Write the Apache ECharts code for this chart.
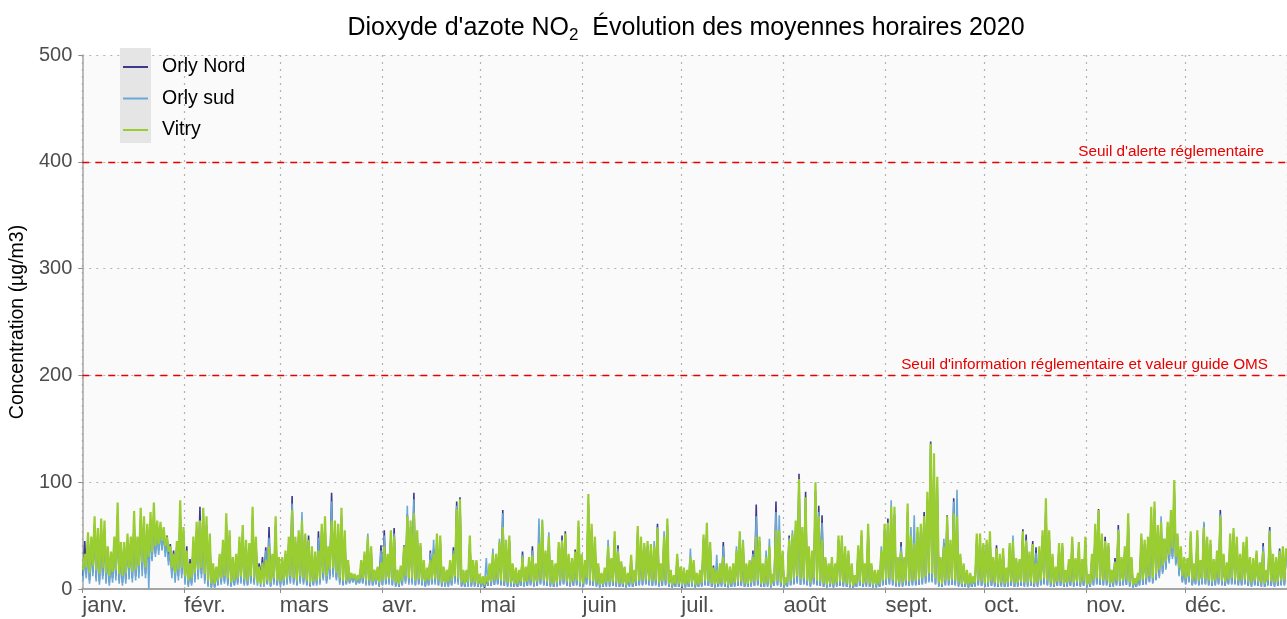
<!DOCTYPE html>
<html><head><meta charset="utf-8">
<script src="https://cdn.jsdelivr.net/npm/echarts@6/dist/echarts.min.js"></script>
<style>html,body{margin:0;padding:0;background:#fff}#c{width:1287px;height:619px}</style>
</head><body><div id="c"></div>
<script>
const monthLabels = ['janv.','févr.','mars','avr.','mai','juin','juil.','août','sept.','oct.','nov.','déc.'];
const yTicks = [0,100,200,300,400,500];
const thresholds = [400, 200];
const thresholdLabels = ["Seuil d'alerte réglementaire", "Seuil d'information réglementaire et valeur guide OMS"];
const seriesNames = ['Orly Nord','Orly sud','Vitry'];

// daily peak / trough readings (µg/m3), day 0 = 1 Jan 2020
const vitryHi = [33,53,49,68,57,66,64,40,35,49,
81,44,44,52,49,73,49,76,68,61,
72,81,64,63,58,49,40,33,45,83,
58,36,24,49,63,64,76,68,52,24,
21,33,46,71,55,30,33,49,60,46,
43,77,49,21,24,27,40,33,68,30,
30,36,49,74,49,55,64,52,46,40,
35,36,61,68,40,64,64,61,76,55,
27,15,14,13,27,35,49,40,18,21,
25,40,33,55,49,18,22,40,68,64,
71,55,43,27,20,27,33,52,50,21,
18,27,33,75,84,18,18,50,27,27,
14,12,12,24,33,33,44,58,46,50,
24,20,18,30,21,30,32,24,43,64,
36,49,27,24,44,45,52,33,29,35,
64,33,27,89,61,49,24,15,20,40,
29,54,35,26,21,15,32,18,59,49,
43,45,42,40,57,24,49,66,18,13,
33,21,20,18,30,27,15,18,51,62,
44,20,18,24,30,24,21,24,36,54,
44,24,27,30,49,49,24,30,40,14,
55,55,36,11,46,52,64,103,58,86,
40,36,100,68,46,30,24,30,24,50,
50,40,36,24,13,41,55,24,61,24,
18,18,36,61,62,77,77,30,35,30,
80,50,43,58,61,68,91,136,127,105,
30,40,68,46,71,68,33,24,18,15,
12,52,52,43,46,54,30,38,33,38,
20,43,45,29,28,54,45,35,42,24,
40,55,85,55,33,21,43,43,18,28,
49,29,44,28,49,14,33,61,74,52,
45,43,18,25,55,30,40,71,30,10,
15,52,46,49,77,82,60,63,47,63,
74,102,52,40,30,29,54,24,55,27,
58,49,46,28,36,68,33,25,52,57,
49,33,44,49,30,29,36,25,35,18,
54,33,30,35,40,38];
const vitryLo = [18,20,15,22,18,14,20,15,12,16,
18,14,12,15,20,16,18,22,25,20,
30,35,40,42,45,40,35,20,15,18,
20,12,8,10,15,18,20,14,8,5,
5,8,10,12,10,6,8,10,12,9,
8,12,10,6,5,5,8,6,10,8,
7,8,10,12,10,8,12,10,8,6,
7,8,10,15,12,18,20,15,10,8,
8,9,10,8,9,10,8,8,7,8,
6,8,9,10,8,6,5,8,12,10,
10,8,9,8,7,8,9,10,8,6,
6,7,8,12,10,6,5,7,6,6,
5,5,4,6,7,8,9,8,7,6,
6,5,5,7,6,7,8,6,7,9,
8,7,6,5,6,8,9,7,6,7,
8,6,5,10,8,7,6,4,5,6,
6,7,6,5,5,4,6,5,7,8,
8,9,8,7,8,6,7,8,5,4,
5,5,4,4,5,6,4,4,6,8,
7,5,4,5,6,5,4,5,6,7,
7,5,5,6,7,8,5,5,6,4,
7,8,6,4,6,8,10,12,9,10,
8,6,10,8,7,5,4,5,4,6,
7,6,5,4,3,5,7,5,6,5,
4,4,5,8,9,10,8,6,6,6,
8,7,8,8,9,10,12,15,14,10,
6,5,8,8,9,8,6,5,5,4,
5,6,8,7,5,6,7,6,5,6,
5,6,7,5,6,7,6,6,7,5,
6,8,10,8,6,5,7,7,5,6,
7,6,7,6,7,4,5,8,10,9,
8,8,5,6,8,7,8,9,6,4,
5,8,9,10,12,10,14,18,22,26,
32,38,30,20,12,10,12,8,9,8,
10,9,8,7,8,10,8,7,9,10,
9,8,8,9,7,6,8,7,6,5,
8,7,6,7,8,8];
const nordHi = [45,48,42,60,50,58,55,34,30,44,
70,40,38,46,44,64,44,66,60,55,
62,70,60,58,54,50,42,36,42,72,
52,40,28,44,55,77,70,60,46,22,
20,30,42,62,50,28,30,44,54,42,
40,68,44,24,30,39,58,30,60,28,
28,33,44,87,44,50,60,48,50,36,
32,54,55,62,36,90,58,56,68,50,
25,14,13,12,24,32,45,36,17,20,
41,55,30,50,57,17,20,41,70,58,
90,50,40,25,19,36,38,46,45,20,
17,25,39,82,86,17,17,45,25,25,
13,11,11,22,30,30,40,74,42,45,
22,18,17,35,20,28,40,23,40,58,
33,45,25,22,40,50,54,30,27,37,
58,30,25,80,56,45,22,14,18,37,
27,48,41,24,20,14,29,17,53,45,
40,41,38,37,61,22,45,60,17,12,
30,20,18,17,28,25,14,17,47,56,
40,22,17,22,44,22,20,22,33,49,
40,22,25,36,79,45,22,28,37,13,
82,50,33,10,50,48,58,108,53,91,
36,33,92,78,69,28,22,28,22,46,
46,37,33,22,12,38,50,22,56,22,
17,17,33,56,66,72,70,28,44,28,
72,46,40,53,56,72,84,138,118,96,
28,43,69,42,85,62,30,22,17,14,
11,47,48,40,42,50,28,41,30,35,
19,40,42,27,26,56,51,32,45,39,
36,50,78,50,30,20,40,40,17,26,
45,27,40,26,45,13,30,56,75,48,
49,40,17,29,60,28,37,65,28,9,
14,48,42,45,70,75,55,58,47,58,
68,94,48,37,28,27,50,22,50,25,
61,45,42,26,33,74,30,23,48,52,
45,30,40,45,28,27,33,23,43,17,
58,30,28,38,37,35];
const nordLo = [12,14,8,15,10,7,12,8,6,10,
12,8,6,9,13,10,12,15,18,14,
24,28,33,36,38,34,26,14,10,12,
14,7,4,5,9,12,14,8,4,2,
2,4,6,7,5,3,4,6,7,5,
4,7,6,10,12,8,5,3,6,4,
4,4,6,7,6,4,7,6,4,3,
4,5,6,10,7,12,14,10,6,4,
5,6,7,5,6,6,5,4,4,5,
3,4,5,6,4,3,2,4,7,6,
6,4,5,4,3,4,5,6,4,3,
3,3,4,7,6,3,2,3,3,3,
2,2,1,3,3,4,5,4,3,3,
3,2,2,3,3,3,4,3,3,5,
4,3,3,2,3,4,5,3,3,3,
4,3,2,5,4,3,3,2,2,3,
3,3,3,2,2,2,3,2,3,4,
4,5,4,3,4,3,3,4,2,2,
2,2,1,2,2,3,2,2,3,4,
3,2,2,2,3,2,2,2,3,3,
3,2,2,3,3,4,2,2,3,2,
3,4,3,2,3,4,5,6,4,5,
4,3,5,4,3,2,2,2,2,3,
3,3,2,2,1,2,3,2,3,2,
2,2,2,4,4,5,4,3,3,3,
4,3,4,4,4,5,6,8,7,5,
3,2,4,4,4,4,3,2,2,2,
2,3,4,3,2,3,3,3,2,3,
2,3,3,2,3,3,3,3,3,2,
3,4,5,4,3,2,3,3,2,3,
3,3,3,3,3,2,2,4,5,4,
4,4,2,3,4,3,4,4,3,2,
2,4,4,5,7,6,9,12,16,20,
26,30,24,14,7,5,7,4,5,4,
5,5,4,3,4,5,4,3,5,5,
5,4,4,5,3,3,4,3,3,2,
4,3,3,3,4,4];
const sudHi = [30,46,44,58,48,56,54,33,29,42,
68,38,37,44,42,62,42,64,58,52,
60,68,58,56,52,46,38,32,40,70,
50,34,22,42,54,60,75,58,44,20,
18,28,40,60,48,26,28,42,52,40,
38,66,42,20,25,36,48,28,58,26,
26,32,42,80,42,48,72,46,42,34,
30,48,52,60,34,82,56,54,66,48,
24,13,12,11,23,30,52,38,16,18,
36,50,28,48,52,16,19,36,78,56,
84,48,38,24,18,34,46,44,44,18,
16,24,36,78,84,16,16,44,24,24,
12,10,29,22,38,30,47,71,40,44,
20,17,16,32,19,27,36,22,66,65,
32,53,24,21,38,46,50,29,26,34,
56,29,24,78,54,41,21,13,17,46,
26,46,38,23,19,13,28,16,52,43,
38,40,37,45,58,21,54,58,16,11,
29,19,17,16,38,24,13,16,45,54,
38,19,32,21,40,21,19,21,40,47,
46,21,24,33,68,43,21,36,47,12,
72,69,32,10,48,55,56,100,52,84,
35,32,90,72,62,27,21,27,21,44,
44,35,32,21,11,36,48,21,54,21,
16,16,40,54,62,83,68,27,40,27,
70,58,69,50,54,68,82,132,115,94,
27,47,64,40,82,93,29,21,16,13,
10,46,46,38,40,48,27,36,29,34,
18,38,50,26,25,52,46,31,42,34,
35,48,76,48,29,19,38,38,16,25,
43,26,38,25,43,12,29,54,70,46,
44,38,16,26,56,27,35,62,27,9,
13,46,41,43,68,72,53,68,44,56,
66,90,46,35,27,26,48,21,48,24,
63,43,40,25,32,70,29,22,46,50,
43,29,39,43,27,26,32,22,40,16,
55,29,26,36,35,33];
const sudLo = [8,10,5,12,7,4,9,5,3,6,
8,5,3,5,9,6,8,10,12,10,
0,26,30,32,36,30,22,10,6,8,
10,4,2,3,6,9,10,5,2,1,
1,3,4,5,3,2,3,4,5,3,
3,5,4,3,2,2,4,2,4,3,
2,3,4,5,4,3,5,4,3,2,
3,3,4,8,5,9,11,8,4,3,
4,5,6,4,5,5,3,3,3,4,
2,3,4,4,3,2,2,3,5,4,
4,3,4,3,2,3,4,4,3,2,
2,2,3,5,4,2,2,2,2,2,
2,2,2,3,3,4,4,3,3,2,
2,2,2,3,2,3,3,2,3,4,
3,3,2,2,2,3,4,3,2,3,
3,2,2,4,3,3,2,1,2,2,
2,3,2,2,2,1,2,2,3,3,
3,4,3,3,3,2,3,3,2,1,
2,2,2,1,2,2,1,2,2,3,
3,2,1,2,2,2,1,2,2,3,
3,2,2,2,3,3,2,2,2,1,
3,3,2,1,2,3,4,5,4,4,
3,2,4,3,3,2,1,2,1,2,
3,2,2,1,1,2,3,2,2,2,
1,1,2,3,4,4,3,2,2,2,
3,3,3,3,4,4,5,6,6,4,
2,2,3,3,4,3,2,2,2,1,
2,2,3,3,2,2,3,2,2,2,
2,2,3,2,2,3,2,2,3,2,
2,3,4,3,2,2,3,3,2,2,
3,2,3,2,3,1,2,3,4,4,
3,3,2,2,3,3,3,4,2,1,
2,3,4,4,6,5,8,10,14,18,
24,28,22,12,6,4,6,3,4,3,
4,4,3,3,3,4,3,3,4,4,
4,3,3,4,3,2,3,3,2,2,
3,3,2,3,3,3];

const DAY = 86400000, HOUR = 3600000, T0 = Date.UTC(2020,0,1), T1 = Date.UTC(2021,0,1);
function build(lo, hi){
  const out = [];
  for (let i = 0; i < lo.length; i++) {
    out.push([T0 + i*DAY + 5*HOUR, lo[i]]);
    out.push([T0 + i*DAY + 18*HOUR, hi[i]]);
  }
  return out;
}
const colors = ['#3d3a8c', '#6aa9d6', '#9acd32'];
const widths = [1.6, 1.6, 2.2];
const dataSets = [build(nordLo, nordHi), build(sudLo, sudHi), build(vitryLo, vitryHi)];

const chart = echarts.init(document.getElementById('c'), null, {renderer: 'canvas'});
const gridLine = {show: true, lineStyle: {color: '#b3b3b3', width: 1.2, type: [2, 5]}};
const series = seriesNames.map((n, k) => ({
  name: n, type: 'line', data: dataSets[k], showSymbol: false, symbol: 'none',
  sampling: null, animation: false, z: 2 + k,
  lineStyle: {color: colors[k], width: widths[k]}, itemStyle: {color: colors[k]}
}));
series[2].markLine = {
  silent: true, symbol: 'none', animation: false,
  lineStyle: {color: '#e60000', type: [7, 6], width: 1.4},
  data: thresholds.map((v, i) => ({
    yAxis: v,
    label: {show: true, position: 'insideEndTop', formatter: thresholdLabels[i], color: '#e60000',
      fontSize: 15.3, fontFamily: 'Liberation Sans, Arial, sans-serif', distance: [i === 0 ? 23 : 19, 3]}
  }))
};
chart.setOption({
  animation: false,
  useUTC: true,
  textStyle: {fontFamily: 'Liberation Sans, Arial, sans-serif'},
  title: {
    text: "Dioxyde d'azote NO{sub|2}  Évolution des moyennes horaires 2020",
    left: 681, top: 7, textAlign: 'center',
    textStyle: {fontSize: 25, fontWeight: 'normal', color: '#000', lineHeight: 32,
      rich: {sub: {fontSize: 17, lineHeight: 17, verticalAlign: 'bottom', color: '#000'}}}
  },
  grid: {left: 80.5, top: 55, width: 1214, height: 534, show: true, backgroundColor: '#fafafa', borderWidth: 0},
  legend: {
    data: seriesNames, orient: 'vertical', left: 118, top: 51, icon: 'rect',
    itemWidth: 25, itemHeight: 2, itemGap: 9.5,
    textStyle: {fontSize: 19.5, color: '#000', lineHeight: 22, padding: [0, 0, 0, 9]},
    selectedMode: false
  },
  graphic: [{type: 'rect', shape: {x: 120, y: 48, width: 31, height: 95}, style: {fill: '#e5e5e5'}, z: 3}],
  xAxis: {
    type: 'time', min: T0, max: T1,
    minInterval: 28*DAY, maxInterval: 31*DAY,
    axisLine: {show: true, lineStyle: {color: '#a6a6a6', width: 2}},
    axisTick: {show: true, length: 4, lineStyle: {color: '#8c8c8c', width: 1}},
    axisLabel: {align: 'left', margin: 6, fontSize: 22, color: '#4d4d4d', hideOverlap: false,
      formatter: function (v) { return monthLabels[new Date(v).getUTCMonth()]; }},
    splitLine: gridLine
  },
  yAxis: {
    type: 'value', min: yTicks[0], max: yTicks[yTicks.length - 1], interval: 100,
    name: 'Concentration (µg/m3)', nameLocation: 'middle', nameGap: 51,
    nameTextStyle: {fontSize: 19.5, color: '#000'},
    axisLine: {show: true, lineStyle: {color: '#a6a6a6', width: 1.5}},
    axisTick: {show: true, length: 4, lineStyle: {color: '#8c8c8c'}},
    axisLabel: {fontSize: 20, color: '#4d4d4d', margin: 10},
    splitLine: gridLine
  },
  series: series
});
</script></body></html>
